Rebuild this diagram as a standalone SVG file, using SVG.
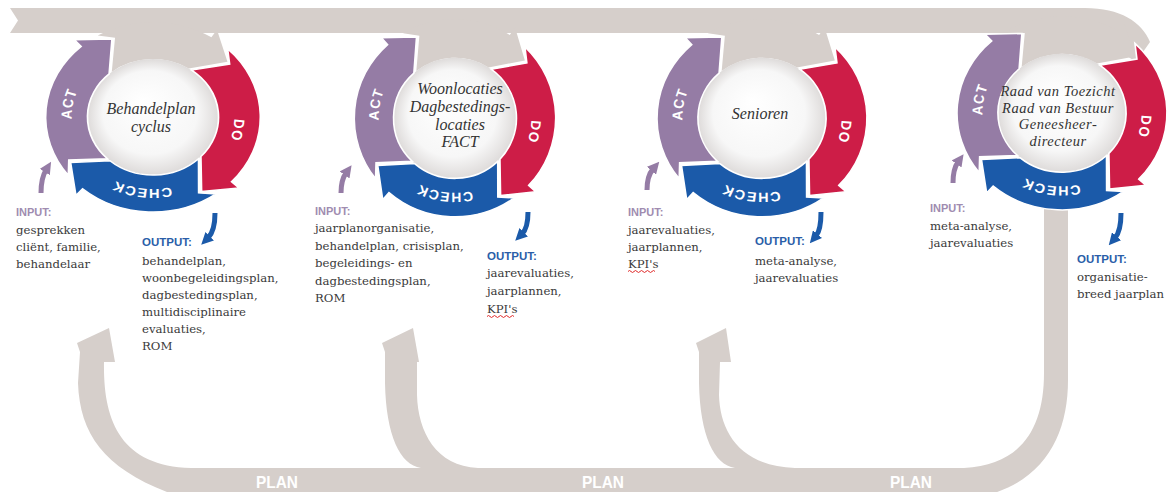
<svg xmlns="http://www.w3.org/2000/svg" xmlns:xlink="http://www.w3.org/1999/xlink" width="1171" height="492" viewBox="0 0 1171 492">
<defs>
<style>
.gr{fill:#d6cfcb}
.seg{stroke:#fff;stroke-width:1.5;vector-effect:non-scaling-stroke}
.act{fill:#957ca5}
.do{fill:#cd1d47}
.chk{fill:#1b5aa9}
.disk{fill:url(#dg)}
.lbl{font-family:"Liberation Sans",Arial,sans-serif;font-weight:bold;font-size:13px;fill:#fff;letter-spacing:1px}
.ctr{font-family:"Liberation Serif","Times New Roman",serif;font-style:italic;font-size:16px;fill:#333;text-anchor:middle}
.ctr4{font-size:14.5px;letter-spacing:0.5px}
.body{font-family:"DejaVu Serif",serif;font-size:11.7px;fill:#3a3a3a}
.in{font-family:"Liberation Sans",Arial,sans-serif;font-weight:bold;font-size:11px;fill:#a08cb0}
.out{font-family:"Liberation Sans",Arial,sans-serif;font-weight:bold;font-size:11.5px;fill:#2a5ea8}
.plant{font-family:"Liberation Sans",Arial,sans-serif;font-weight:bold;font-size:17px;fill:#fff;text-anchor:middle}
.ia{fill:none;stroke:#957ca5;stroke-width:5}
.oa{fill:none;stroke:#1b5aa9;stroke-width:5}
.sq{fill:none;stroke:#e02a2a;stroke-width:1}
</style>
<radialGradient id="dg" cx="50%" cy="50%" r="50%" fx="42%" fy="36%">
<stop offset="0" stop-color="#ffffff"/>
<stop offset="0.72" stop-color="#f7f7f7"/>
<stop offset="1" stop-color="#dedbda"/>
</radialGradient>
<path id="s-plan" d="M -48.9 -81.4 A 95 95 0 0 1 51.7 -79.7 L 56.6 -87.2 L 65.9 -55.3 L 31.6 -48.6 A 58 58 0 0 0 -36.5 -45.1 L -33.6 -79.2 Z"/>
<path id="s-do" d="M 66.0 -68.3 A 95 95 0 0 1 69.5 64.8 L 76.1 70.9 L 43.0 74.5 L 42.4 39.6 A 58 58 0 0 0 34.1 -46.9 L 67.8 -52.9 Z"/>
<path id="s-chk" d="M 55.8 76.9 A 95 95 0 0 1 -62.3 71.7 L -68.2 78.5 L -72.9 45.6 L -38.1 43.8 A 58 58 0 0 0 40.3 41.7 L 40.4 75.9 Z"/>
<path id="s-act" d="M -74.9 58.5 A 95 95 0 0 1 -63.6 -70.6 L -69.6 -77.3 L -36.3 -77.9 L -38.8 -43.1 A 58 58 0 0 0 -40.3 41.7 L -74.5 43.0 Z"/>
<path id="t-act" d="M -59.0 41.3 A 72 72 0 0 1 -41.3 -59.0"/>
<path id="t-do" d="M 59.0 -41.3 A 72 72 0 0 1 41.3 59.0"/>
<path id="t-chk" d="M 43.3 57.5 A 72 72 0 0 1 -56.7 44.3"/>
<marker id="mp" viewBox="0 0 10 10" refX="2" refY="5" markerWidth="12" markerHeight="12" markerUnits="userSpaceOnUse" orient="auto"><path d="M0,0 L10,5 L0,10 z" fill="#957ca5"/></marker>
<marker id="mb" viewBox="0 0 10 10" refX="2" refY="5" markerWidth="12" markerHeight="12" markerUnits="userSpaceOnUse" orient="auto"><path d="M0,0 L10,5 L0,10 z" fill="#1b5aa9"/></marker>
</defs>
<rect width="1171" height="492" fill="#fff"/>

<g id="connectors">
<path class="gr" d="M 80 352 L 77 343 L 109 328 L 115 362 L 104 362 C 103 420 120 466 191 468 L 421 468 C 400 465 386 435 385 383 L 385 352 L 382 343 L 413 328 L 419 362 L 417 362 L 417 395 C 418 432 436 466 478 468 L 735 468 C 714 465 700 435 699 383 L 699 352 L 696 343 L 726 328 L 731 362 L 720 362 L 719 395 C 720 432 740 466 795 468 L 964 468 C 1020 465 1044 430 1044 373 L 1044 195 L 1068 195 L 1068 380 C 1068 440 1040 492 960 500 L 190 500 C 110 475 80 440 78 383 Z"/>
<path class="gr" d="M 10 8 L 1085 8 C 1120 8 1142 22 1150 42 L 1136 62 L 1118 50 L 1100 33 L 10 33 L 18 20.5 Z"/>
<text class="plant" x="277" y="488" textLength="42" lengthAdjust="spacingAndGlyphs">PLAN</text>
<text class="plant" x="603" y="488" textLength="42" lengthAdjust="spacingAndGlyphs">PLAN</text>
<text class="plant" x="911" y="488" textLength="42" lengthAdjust="spacingAndGlyphs">PLAN</text>
<path class="ia" d="M 41 193 Q 41 178 46 170" marker-end="url(#mp)"/>
<path class="ia" d="M 341 193 Q 341 180 346 173" marker-end="url(#mp)"/>
<path class="ia" d="M 647 190 Q 647 176 653 169" marker-end="url(#mp)"/>
<path class="ia" d="M 953 183 Q 953 169 958 162" marker-end="url(#mp)"/>
<path class="oa" d="M 215 213 Q 215 231 208 238" marker-end="url(#mb)"/>
<path class="oa" d="M 528 212 Q 528 228 522 234" marker-end="url(#mb)"/>
<path class="oa" d="M 821 212 Q 821 230 816 236" marker-end="url(#mb)"/>
<path class="oa" d="M 1121 213 Q 1121 231 1115 238" marker-end="url(#mb)"/>
</g>

<g id="cycle1">
<g transform="translate(153 117) scale(1.13 1)">
<use href="#s-plan" class="gr"/>
<circle r="58" class="disk"/>
<use href="#s-do" class="seg do"/>
<use href="#s-chk" class="seg chk"/>
<use href="#s-act" class="seg act"/>
<text class="lbl"><textPath href="#t-act" startOffset="50%" text-anchor="middle">ACT</textPath></text>
<text class="lbl"><textPath href="#t-do" startOffset="50%" text-anchor="middle">DO</textPath></text>
<text class="lbl"><textPath href="#t-chk" startOffset="50%" text-anchor="middle">CHECK</textPath></text>
</g>
<text class="ctr"><tspan x="151" y="114">Behandelplan</tspan><tspan x="151" y="132">cyclus</tspan></text>
</g>

<g id="cycle2">
<g transform="translate(455 118) scale(1.06 1.04)">
<use href="#s-plan" class="gr"/>
<circle r="58" class="disk"/>
<use href="#s-do" class="seg do"/>
<use href="#s-chk" class="seg chk"/>
<use href="#s-act" class="seg act"/>
<text class="lbl"><textPath href="#t-act" startOffset="50%" text-anchor="middle">ACT</textPath></text>
<text class="lbl"><textPath href="#t-do" startOffset="50%" text-anchor="middle">DO</textPath></text>
<text class="lbl"><textPath href="#t-chk" startOffset="50%" text-anchor="middle">CHECK</textPath></text>
</g>
<text class="ctr"><tspan x="460" y="94">Woonlocaties</tspan><tspan x="460" y="112">Dagbestedings-</tspan><tspan x="460" y="130">locaties</tspan><tspan x="460" y="147">FACT</tspan></text>
</g>

<g id="cycle3">
<g transform="translate(762 118) scale(1.105 1.04)">
<use href="#s-plan" class="gr"/>
<circle r="58" class="disk"/>
<use href="#s-do" class="seg do"/>
<use href="#s-chk" class="seg chk"/>
<use href="#s-act" class="seg act"/>
<text class="lbl"><textPath href="#t-act" startOffset="50%" text-anchor="middle">ACT</textPath></text>
<text class="lbl"><textPath href="#t-do" startOffset="50%" text-anchor="middle">DO</textPath></text>
<text class="lbl"><textPath href="#t-chk" startOffset="50%" text-anchor="middle">CHECK</textPath></text>
</g>
<text class="ctr" x="760" y="119">Senioren</text>
</g>

<g id="cycle4">
<g transform="translate(1062 113) scale(1.105 1.02)">
<use href="#s-plan" class="gr"/>
<circle r="58" class="disk"/>
<use href="#s-do" class="seg do"/>
<use href="#s-chk" class="seg chk"/>
<use href="#s-act" class="seg act"/>
<text class="lbl"><textPath href="#t-act" startOffset="50%" text-anchor="middle">ACT</textPath></text>
<text class="lbl"><textPath href="#t-do" startOffset="50%" text-anchor="middle">DO</textPath></text>
<text class="lbl"><textPath href="#t-chk" startOffset="50%" text-anchor="middle">CHECK</textPath></text>
</g>
<text class="ctr ctr4"><tspan x="1058" y="96">Raad van Toezicht</tspan><tspan x="1058" y="112.5">Raad van Bestuur</tspan><tspan x="1058" y="129">Geneesheer-</tspan><tspan x="1058" y="145.5">directeur</tspan></text>
</g>

<g id="input1">
<text class="in" x="16" y="216">INPUT:</text>
<text class="body"><tspan x="16" y="234">gesprekken</tspan><tspan x="16" y="251">cliënt, familie,</tspan><tspan x="16" y="268">behandelaar</tspan></text>
</g>
<g id="output1">
<text class="out" x="142" y="246">OUTPUT:</text>
<text class="body"><tspan x="142" y="265">behandelplan,</tspan><tspan x="142" y="282">woonbegeleidingsplan,</tspan><tspan x="142" y="299">dagbestedingsplan,</tspan><tspan x="142" y="316">multidisciplinaire</tspan><tspan x="142" y="333">evaluaties,</tspan><tspan x="142" y="350">ROM</tspan></text>
</g>
<g id="input2">
<text class="in" x="315" y="215">INPUT:</text>
<text class="body"><tspan x="315" y="232">jaarplanorganisatie,</tspan><tspan x="315" y="249.5">behandelplan, crisisplan,</tspan><tspan x="315" y="267">begeleidings- en</tspan><tspan x="315" y="284.5">dagbestedingsplan,</tspan><tspan x="315" y="302">ROM</tspan></text>
</g>
<g id="output2">
<text class="out" x="487" y="260">OUTPUT:</text>
<text class="body"><tspan x="487" y="277">jaarevaluaties,</tspan><tspan x="487" y="295">jaarplannen,</tspan><tspan x="487" y="313">KPI's</tspan></text>
<path class="sq" d="M 487 316.5 q 1.5 -2 3 0 t 3 0 t 3 0 t 3 0 t 3 0 t 3 0 t 3 0 t 3 0 t 3 0"/>
</g>
<g id="input3">
<text class="in" x="628" y="216">INPUT:</text>
<text class="body"><tspan x="628" y="234">jaarevaluaties,</tspan><tspan x="628" y="251">jaarplannen,</tspan><tspan x="628" y="268">KPI's</tspan></text>
<path class="sq" d="M 628 271.5 q 1.5 -2 3 0 t 3 0 t 3 0 t 3 0 t 3 0 t 3 0 t 3 0 t 3 0 t 3 0"/>
</g>
<g id="output3">
<text class="out" x="755" y="245">OUTPUT:</text>
<text class="body"><tspan x="755" y="265">meta-analyse,</tspan><tspan x="755" y="282">jaarevaluaties</tspan></text>
</g>
<g id="input4">
<text class="in" x="930" y="212">INPUT:</text>
<text class="body"><tspan x="930" y="230">meta-analyse,</tspan><tspan x="930" y="247">jaarevaluaties</tspan></text>
</g>
<g id="output4">
<text class="out" x="1077" y="263">OUTPUT:</text>
<text class="body"><tspan x="1077" y="281">organisatie-</tspan><tspan x="1077" y="297.5">breed jaarplan</tspan></text>
</g>
</svg>
